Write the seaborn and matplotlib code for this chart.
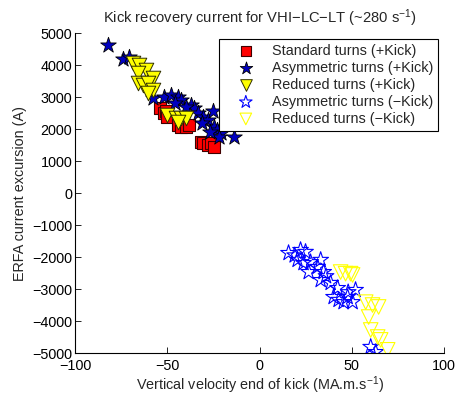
import matplotlib
matplotlib.use("Agg")
import matplotlib.pyplot as plt
import seaborn as sns
import numpy as np

# Standard turns (+Kick)
std_x = [-53.7, -52.0, -50.5, -49.9, -44.4, -42.8, -40.1, -38.5, -32.0, -30.4, -28.2, -26.5, -24.9]
std_y = [2660, 2500, 2560, 2375, 2125, 2060, 2060, 2120, 1600, 1560, 1500, 1560, 1440]

# Asymmetric turns (+Kick)
asp_x = [-82.2, -74.0, -71.0, -57.5, -52.0, -48.2, -44.4, -42.8, -37.4, -35.8, -33.6, -30.4,
         -28.2, -25.5, -24.9, -22.8, -21.1, -22.2, -14.0, -46.0, -40.0, -31.0, -27.0]
asp_y = [4625, 4190, 4250, 2970, 3000, 3060, 3000, 2900, 2750, 2660, 2500, 2375,
         2280, 2560, 2060, 1970, 1875, 1750, 1750, 2820, 2700, 2200, 1900]

# Reduced turns (+Kick)
rdp_x = [-68.8, -65.6, -61.8, -66.1, -57.5, -66.1, -63.4, -60.2, -57.5, -60.7,
         -49.9, -45.5, -42.8, -40.1, -44.4]
rdp_y = [4060, 4000, 3840, 3750, 3590, 3440, 3375, 3440, 3220, 3125,
         2440, 2340, 2340, 2340, 2220]

# Asymmetric turns (-Kick)
asm_x = [15.7, 22.2, 24.9, 20.6, 23.8, 27.6, 33.1, 31.4, 26.6, 34.7, 33.1, 38.5, 42.3,
         40.1, 42.8, 47.7, 50.4, 52.0, 45.5, 60.2, 62.9, 19.0, 36.0, 48.0]
asm_y = [-1875, -1780, -1840, -2090, -2190, -2160, -2090, -2310, -2470, -2470, -2720, -2810, -2970,
         -3250, -3340, -3250, -3410, -3030, -3410, -4810, -4970, -1950, -2600, -3100]

# Reduced turns (-Kick)
rdm_x = [43.9, 46.6, 49.3, 50.4, 57.5, 61.2, 64.5, 59.1, 60.2, 64.0, 65.6, 69.4]
rdm_y = [-2470, -2520, -2520, -2560, -3410, -3500, -3560, -3875, -4280, -4500, -4590, -4900]

sns.set_style("white")
plt.rcParams['font.family'] = ['Liberation Sans', 'DejaVu Sans']
plt.rcParams['mathtext.fontset'] = 'custom'
plt.rcParams['mathtext.rm'] = 'Liberation Sans'
plt.rcParams['mathtext.it'] = 'Liberation Sans'

FS = 10.4

fig = plt.figure(figsize=(4.56, 3.98), dpi=100)
ax = fig.add_axes([0.1645, 0.113, 0.8095, 0.804])

sns.scatterplot(x=std_x, y=std_y, ax=ax, marker='s', s=70, color='#ff0000',
                edgecolor='#400000', linewidth=0.8, label='Standard turns (+Kick)', zorder=3)
sns.scatterplot(x=asp_x, y=asp_y, ax=ax, marker='*', s=140, color='#0000c0',
                edgecolor='black', linewidth=0.6, label='Asymmetric turns (+Kick)', zorder=4)
sns.scatterplot(x=rdp_x, y=rdp_y, ax=ax, marker='v', s=110, color='#ffff00',
                edgecolor='#303000', linewidth=0.7, label='Reduced turns (+Kick)', zorder=5)
sns.scatterplot(x=asm_x, y=asm_y, ax=ax, marker='*', s=140, facecolor='none',
                edgecolor='#0000ff', linewidth=0.8, label='Asymmetric turns (\u2212Kick)', zorder=3)
sns.scatterplot(x=rdm_x, y=rdm_y, ax=ax, marker='v', s=110, facecolor='none',
                edgecolor='#ffff00', linewidth=0.8, label='Reduced turns (\u2212Kick)', zorder=4)

ax.set_xlim(-100, 100)
ax.set_ylim(-5000, 5000)
ax.set_xticks([-100, -50, 0, 50, 100])
ax.set_xticklabels(['\u2212100', '\u221250', '0', '50', '100'])
yt = list(range(-5000, 5001, 1000))
ax.set_yticks(yt)
ax.set_yticklabels([str(v).replace('-', '\u2212') for v in yt])
ax.tick_params(direction='in', length=4, width=0.6, labelsize=FS, pad=2,
               left=True, bottom=True, colors='black')
ax.tick_params(axis='x', pad=4)
for s in ['top', 'right']:
    ax.spines[s].set_visible(False)
for s in ['left', 'bottom']:
    ax.spines[s].set_color('black')
    ax.spines[s].set_linewidth(0.8)

ax.set_title('Kick recovery current for VHI\u2212LC\u2212LT (~280 s$^{\\mathregular{-1}}$)', fontsize=FS + 0.2, pad=7)
ax.set_xlabel('Vertical velocity end of kick (MA.m.s$^{\\mathregular{-1}}$)', fontsize=FS, labelpad=1)
ax.set_ylabel('ERFA current excursion (A)', fontsize=FS, labelpad=4)

leg = ax.legend(loc='upper right', bbox_to_anchor=(0.984, 0.981), frameon=True, fancybox=False,
                fontsize=FS, borderpad=0.35, labelspacing=0.2, handletextpad=0.3,
                borderaxespad=0, handlelength=3.0, markerscale=0.8, framealpha=1)
leg.get_frame().set_edgecolor('black')
leg.get_frame().set_linewidth(0.8)
leg.set_zorder(10)

fig.savefig('out.png', dpi=100)
